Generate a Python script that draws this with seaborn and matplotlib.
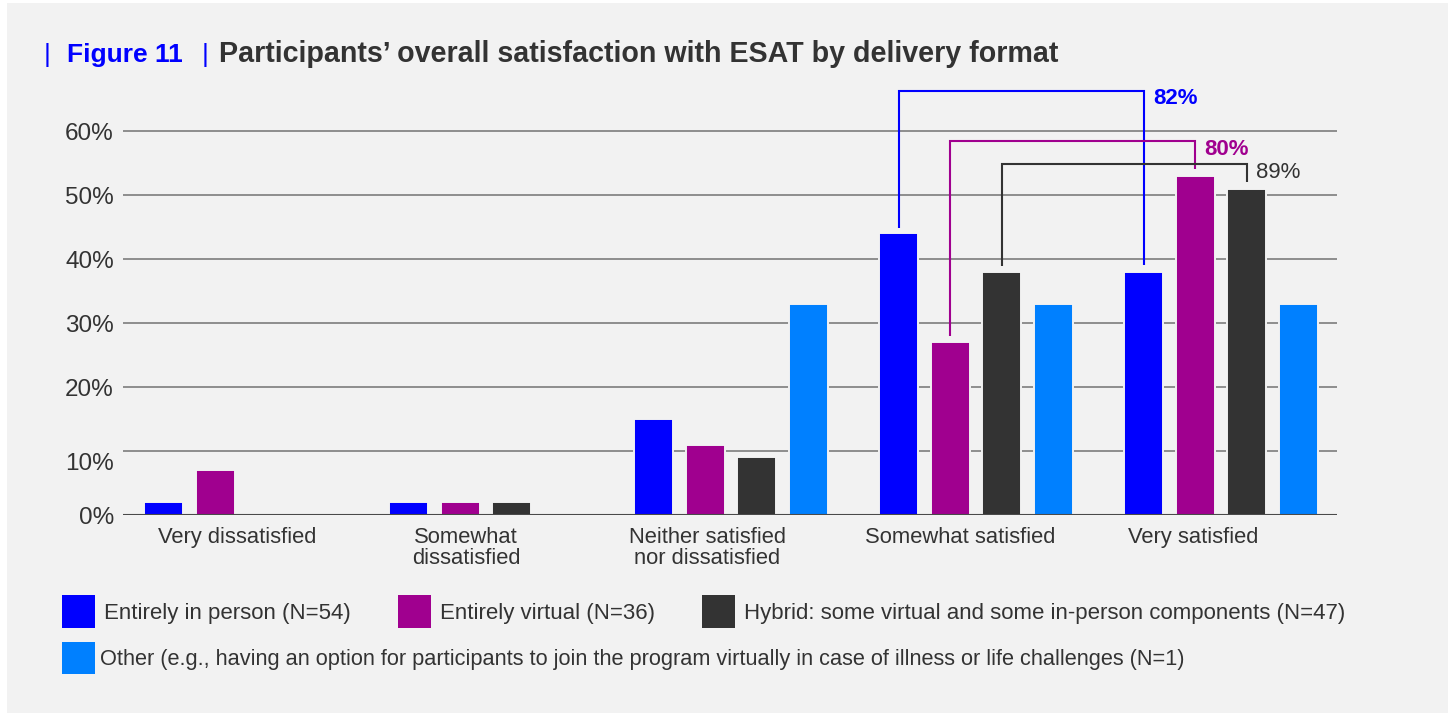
import matplotlib
matplotlib.use("Agg")
import numpy as np
import pandas as pd
import seaborn as sns
import matplotlib.pyplot as plt
from matplotlib.patches import Patch, Rectangle
from matplotlib.transforms import ScaledTranslation

# ---- data -------------------------------------------------------------
ratings = [
    "Very dissatisfied",
    "Somewhat\ndissatisfied",
    "Neither satisfied\nnor dissatisfied",
    "Somewhat satisfied",
    "Very satisfied",
]
formats = [
    "Entirely in person (N=54)",
    "Entirely virtual (N=36)",
    "Hybrid: some virtual and some in-person components (N=47)",
    "Other (e.g., having an option for participants to join the program "
    "virtually in case of illness or life challenges (N=1)",
]
in_person = [2, 2, 15, 44, 38]
virtual = [7, 2, 11, 27, 53]
hybrid = [0, 2, 9, 38, 51]
other = [0, 0, 33, 33, 33]
y_ticks = [0, 10, 20, 30, 40, 50, 60]
y_tick_labels = ["0%", "10%", "20%", "30%", "40%", "50%", "60%"]

# ---- style ------------------------------------------------------------
colors = ["#0000ff", "#a0008f", "#333333", "#0080ff"]
BG = "#f2f2f2"
TEXT = "#333333"
GRID = "#8e8e8e"

sns.set_style("white")
plt.rcParams["font.family"] = ["Liberation Sans", "DejaVu Sans"]

W, H = 1448, 713
fig = plt.figure(figsize=(W / 100, H / 100), dpi=100, facecolor="white")
fig.patches.append(Rectangle((7 / W, 0), 1 - 7 / W, 1 - 3 / H,
                             transform=fig.transFigure, facecolor=BG,
                             edgecolor="none", zorder=-10))

def fx(px):
    return px / W

def fy(py):
    return 1 - py / H

Y_MAX = 68
ax_left, ax_right, ax_base = 123, 1337, 515
px_per_unit = 6.4
ax_top = ax_base - Y_MAX * px_per_unit
ax = fig.add_axes([fx(ax_left), fy(ax_base), (ax_right - ax_left) / W,
                   (ax_base - ax_top) / H])
ax.set_facecolor("none")

series = [in_person, virtual, hybrid, other]
df = pd.DataFrame({
    "rating": np.tile(ratings, len(formats)),
    "format": np.repeat(formats, len(ratings)),
    "pct": np.concatenate(series),
})

sns.barplot(data=df, x="rating", y="pct", hue="format",
            order=ratings, hue_order=formats,
            palette=dict(zip(formats, colors)), saturation=1,
            width=0.841, gap=0.243, edgecolor=BG, linewidth=1.4,
            legend=False, ax=ax, zorder=2)

ax.set_xlim(-0.482, 4.473)
ax.set_ylim(0, Y_MAX)
ax.set_xlabel("")
ax.set_ylabel("")
for s in ax.spines.values():
    s.set_visible(False)

ax.set_yticks(y_ticks)
ax.set_yticklabels(y_tick_labels, fontsize=17.5, color=TEXT)
ax.tick_params(axis="y", length=0, pad=6.5)
for t in y_ticks[1:]:
    ax.axhline(t, color=GRID, lw=1.4, zorder=1)
ax.axhline(0, color="#4a4a4a", lw=1.5, zorder=3)

# the 10% label sits a little below its gridline
ax.get_yticklabels()[1].set_transform(
    ax.get_yticklabels()[1].get_transform()
    + ScaledTranslation(0, -0.10, fig.dpi_scale_trans))

ax.tick_params(axis="x", length=0, pad=8.5)
ax.set_xticks(range(len(ratings)))
ax.set_xticklabels(ratings, fontsize=15.8, color=TEXT, linespacing=1.0)
label_shift_px = [-3.5, -20, -24, -16, -28]
for lab, dx in zip(ax.get_xticklabels(), label_shift_px):
    lab.set_transform(lab.get_transform()
                      + ScaledTranslation(dx / 100, 0, fig.dpi_scale_trans))

# ---- combined "satisfied" brackets ------------------------------------
bracket_tops = [66.25, 58.4, 54.8]
label_weights = ["bold", "bold", "normal"]
for i in range(3):
    bars = ax.containers[i]
    b1, b2 = bars[3], bars[4]
    x1 = b1.get_x() + b1.get_width() / 2
    x2 = b2.get_x() + b2.get_width() / 2
    v1, v2 = series[i][3], series[i][4]
    top = bracket_tops[i]
    ax.plot([x1, x1, x2, x2], [v1 + 0.9, top, top, v2 + 1.0],
            color=colors[i], lw=1.5, clip_on=False, zorder=4,
            solid_joinstyle="miter", solid_capstyle="butt")
    ax.annotate(f"{v1 + v2}%", xy=(x2, top), xytext=(9, -8),
                textcoords="offset pixels", ha="left", va="center",
                fontsize=16, fontweight=label_weights[i], color=colors[i],
                annotation_clip=False)

# ---- title ------------------------------------------------------------
ty = fy(62)
fig.text(fx(44), ty, "|", color=colors[0], fontsize=19, va="baseline")
fig.text(fx(67), ty, "Figure 11", color=colors[0], fontsize=19,
         fontweight="bold", va="baseline")
fig.text(fx(202), ty, "|", color=colors[0], fontsize=19, va="baseline")
fig.text(fx(219), ty,
         "Participants\u2019 overall satisfaction with ESAT by delivery format",
         color=TEXT, fontsize=20.6, fontweight="bold", va="baseline")

# ---- legend -----------------------------------------------------------
handles = [Patch(facecolor=c, edgecolor="none", label=l)
           for c, l in zip(colors, formats)]
common = dict(loc="upper left", frameon=False,
              handlelength=1.5, handleheight=1.9, borderpad=0,
              borderaxespad=0, labelcolor=TEXT)
fig.legend(handles=handles[:3], ncol=3, bbox_to_anchor=(fx(62), fy(595)),
           fontsize=16, handletextpad=0.4, columnspacing=2.1, **common)
fig.legend(handles=handles[3:], ncol=1, bbox_to_anchor=(fx(62), fy(642)),
           fontsize=15.7, handletextpad=0.25, **common)

fig.savefig("out.png", dpi=100, facecolor=fig.get_facecolor())
